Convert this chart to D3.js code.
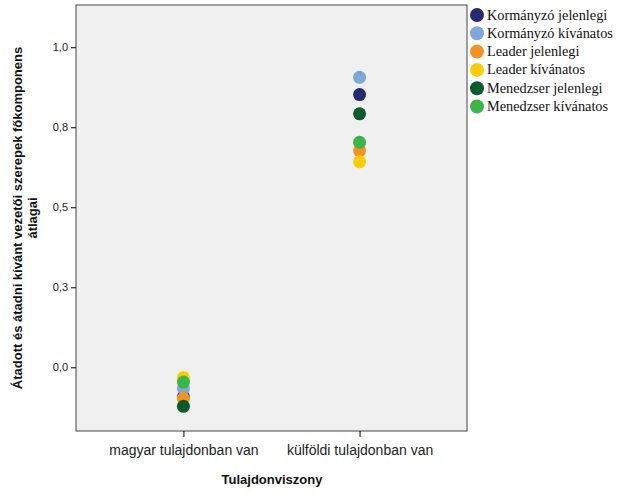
<!DOCTYPE html><html><head><meta charset="utf-8"><script src="https://d3js.org/d3.v7.min.js"></script>
<style>body{margin:0;background:#fff}</style></head><body><svg id="c" width="626" height="501"></svg><script>
const categories=["magyar tulajdonban van","külföldi tulajdonban van"];
const seriesNames=["Kormányzó jelenlegi","Kormányzó kívánatos","Leader jelenlegi","Leader kívánatos","Menedzser jelenlegi","Menedzser kívánatos"];
const colors=["#262a6e","#7fa7d8","#f39325","#fccb0a","#0d5a2c","#3bb54a"];
const magyarValues=[-0.092,-0.066,-0.097,-0.032,-0.122,-0.046];
const kulfoldiValues=[0.852,0.906,0.677,0.642,0.792,0.703];
const yTicks=[0,0.25,0.5,0.75,1.0];
const svg=d3.select("#c");
const L=76,T=5,R=467,B=431;
svg.append("rect").attr("x",L).attr("y",T).attr("width",R-L).attr("height",B-T).attr("fill","#f0f0f0").attr("stroke","#444").attr("stroke-width",1);
const y=d3.scaleLinear().domain([-0.199,1.132]).range([B,T]);
const x=d3.scalePoint().domain(categories).range([L,R]).padding(0.61);
const ya=svg.append("g").attr("transform",`translate(${L},0)`).call(d3.axisLeft(y).tickValues(yTicks).tickSize(5).tickFormat(d=>d3.format(".1f")(d).replace(".",",")));
ya.select(".domain").remove();
ya.selectAll("text").attr("font-family","Liberation Sans, Arial").attr("font-size",11).attr("fill","#222");
const xa=svg.append("g").attr("transform",`translate(0,${B})`).call(d3.axisBottom(x).tickSize(6).tickPadding(8));
xa.select(".domain").remove();
xa.selectAll("text").attr("font-family","Liberation Sans, Arial").attr("font-size",14).attr("fill","#222");
const pts=[];
seriesNames.forEach((s,i)=>{pts.push({c:categories[0],v:magyarValues[i],i});pts.push({c:categories[1],v:kulfoldiValues[i],i});});
svg.selectAll("circle.p").data(pts).join("circle").attr("class","p").attr("cx",d=>x(d.c)).attr("cy",d=>y(d.v)).attr("r",6.5).attr("fill",d=>colors[d.i]);
const lg=svg.append("g");
seriesNames.forEach((s,i)=>{
 lg.append("circle").attr("cx",477).attr("cy",15+i*18.3).attr("r",7).attr("fill",colors[i]);
 lg.append("text").attr("x",487).attr("y",15+i*18.3+4.5).text(s).attr("font-family","Liberation Serif, Times New Roman").attr("font-size",14.3).attr("fill","#111");
});
const yl=svg.append("text").attr("transform","translate(22,218) rotate(-90)").attr("text-anchor","middle").attr("font-family","Liberation Sans, Arial").attr("font-weight","bold").attr("font-size",13).attr("fill","#111");
yl.append("tspan").attr("x",0).attr("dy",0).text("Átadott és átadni kívánt vezetői szerepek főkomponens");
yl.append("tspan").attr("x",0).attr("dy",15).text("átlagai");
svg.append("text").attr("x",272).attr("y",484).attr("text-anchor","middle").attr("font-family","Liberation Sans, Arial").attr("font-weight","bold").attr("font-size",13).attr("fill","#111").text("Tulajdonviszony");
</script></body></html>
